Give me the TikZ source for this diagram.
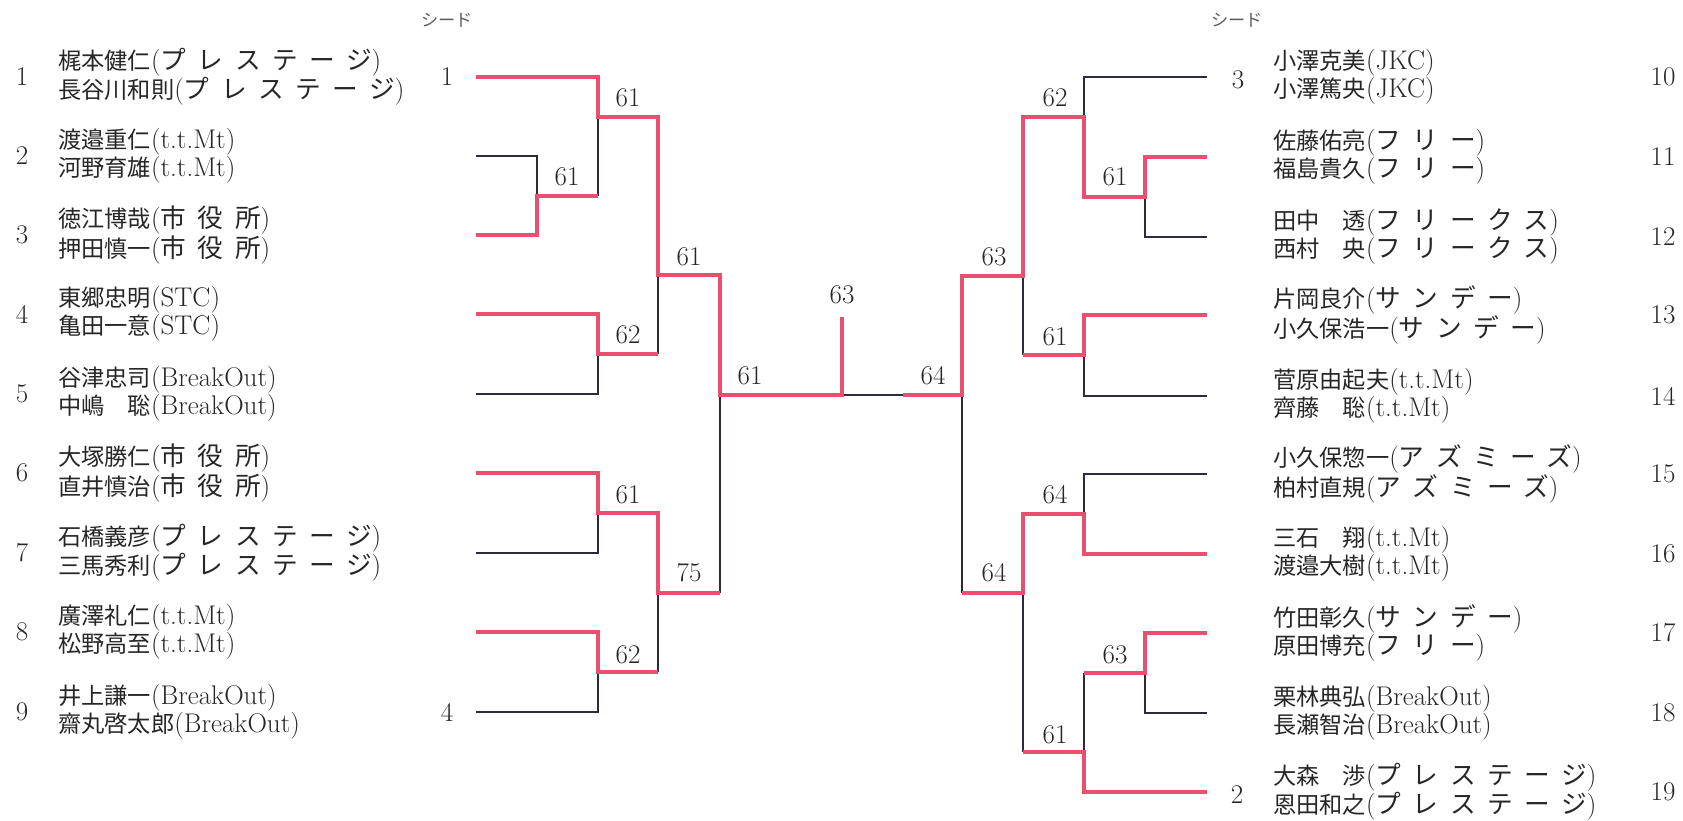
\documentclass[tikz,border=0pt]{standalone}
\usepackage{fontspec}
\usepackage{tikz}

\newfontfamily\jp[Scale=0.86]{Noto Sans CJK JP}
\newfontfamily\jpteam[Scale=0.95,LetterSpace=45]{Noto Sans CJK JP}
\definecolor{winline}{HTML}{E9506F}
\definecolor{loseline}{HTML}{2B2B3C}
\definecolor{ink}{HTML}{262626}
\newcommand{\pl}[2]{{\jp #1}(#2)}
\newcommand{\tm}[1]{{\jpteam #1}}

\tikzset{
  win/.style={draw=winline, line width=4pt},
  lose/.style={draw=loseline, line width=1.8pt},
  player/.style={anchor=west, align=left, inner sep=0pt, text=ink, font=\fontsize{27}{28}\selectfont},
  num/.style={inner sep=0pt, text=ink, font=\fontsize{27}{28}\selectfont},
  score/.style={inner sep=0pt, text=ink, font=\fontsize{27}{28}\selectfont},
  seedhead/.style={inner sep=0pt, text=ink!75, font=\jp\fontsize{20}{20}\selectfont},
}

\begin{document}
\begin{tikzpicture}[x=1pt, y=-1pt]
\useasboundingbox (0,0) rectangle (1683,821);
% left half
\coordinate (L1) at (476,77);
\coordinate (L2) at (476,156);
\coordinate (L3) at (476,235);
\coordinate (L4) at (476,314);
\coordinate (L5) at (476,394);
\coordinate (L6) at (476,473);
\coordinate (L7) at (476,553);
\coordinate (L8) at (476,632);
\coordinate (L9) at (476,712);
\coordinate (A) at (537,196);
\coordinate (B) at (598,117);
\coordinate (C) at (598,354);
\coordinate (D) at (658,275);
\coordinate (E) at (598,513);
\coordinate (G) at (598,672);
\coordinate (H) at (658,593);
\coordinate (K) at (720,395);
\coordinate (F) at (842,395);
\coordinate (V) at (842,317);
\coordinate (M) at (903,395);
% right half
\coordinate (R10) at (1207,77);
\coordinate (R11) at (1207,157);
\coordinate (R12) at (1207,237);
\coordinate (R13) at (1207,315);
\coordinate (R14) at (1207,396);
\coordinate (R15) at (1207,474);
\coordinate (R16) at (1207,554);
\coordinate (R17) at (1207,633);
\coordinate (R18) at (1207,713);
\coordinate (R19) at (1207,792);
\coordinate (N) at (1145,197);
\coordinate (P) at (1084,117);
\coordinate (Q) at (1084,355);
\coordinate (S) at (1023,276);
\coordinate (U) at (1084,514);
\coordinate (W) at (1145,673);
\coordinate (X) at (1084,752);
\coordinate (Y) at (1023,593);
\coordinate (Z) at (962,395);

% losers
\draw[lose] (L2) -| (A);
\draw[lose] (A -| B) -- (B);
\draw[lose] (L5) -| (C);
\draw[lose] (C -| D) -- (D);
\draw[lose] (L7) -| (E);
\draw[lose] (L9) -| (G);
\draw[lose] (G -| H) -- (H);
\draw[lose] (H -| K) -- (K);
\draw[lose] (F) -- (M);
\draw[lose] (R10) -| (P);
\draw[lose] (R12) -| (N);
\draw[lose] (R14) -| (Q);
\draw[lose] (Q -| S) -- (S);
\draw[lose] (R15) -| (U);
\draw[lose] (R18) -| (W);
\draw[lose] (W -| X) -- (X);
\draw[lose] (X -| Y) -- (Y);
\draw[lose] (Y -| Z) -- (Z);

% winners
\draw[win] (L1) -| (B) -| (D) -| (K) -- (F) -- (V);
\draw[win] (L3) -| (A) -- (A -| B);
\draw[win] (L4) -| (C) -- (C -| D);
\draw[win] (L6) -| (E) -| (H) -- (H -| K);
\draw[win] (L8) -| (G) -- (G -| H);
\draw[win] (R11) -| (N) -| (P) -| (S) -| (Z) -- (M);
\draw[win] (R13) -| (Q) -- (Q -| S);
\draw[win] (R16) -| (U) -| (Y) -- (Y -| Z);
\draw[win] (R17) -| (W) -- (W -| X);
\draw[win] (R19) -| (X) -- (X -| Y);

% scores
\node[score] (sA) at (567,177) {61};
\node[score] (sB) at (628,98) {61};
\node[score] (sC) at (628,335) {62};
\node[score] (sD) at (689,257) {61};
\node[score] (sE) at (628,495) {61};
\node[score] (sG) at (628,655) {62};
\node[score] (sH) at (689,573) {75};
\node[score] (sK) at (750,376) {61};
\node[score] (sV) at (842,295) {63};
\node[score] (sM) at (933,376) {64};
\node[score] (sN) at (1115,177) {61};
\node[score] (sP) at (1055,98) {62};
\node[score] (sQ) at (1055,337) {61};
\node[score] (sS) at (994,257) {63};
\node[score] (sU) at (1055,495) {64};
\node[score] (sW) at (1115,655) {63};
\node[score] (sX) at (1055,735) {61};
\node[score] (sY) at (994,573) {64};

% seeds
\node[seedhead] (hl) at (447,20) {シード};
\node[seedhead] (hr) at (1237,20) {シード};
\node[num] (d1) at (447,77) {1};
\node[num] (d4) at (447,712) {4};
\node[num] (d3) at (1238,80) {3};
\node[num] (d2) at (1237,795) {2};

% left entries
\node[num] (k1) at (22,77) {1};
\node[num] (k2) at (22,156) {2};
\node[num] (k3) at (22,235) {3};
\node[num] (k4) at (22,314) {4};
\node[num] (k5) at (22,394) {5};
\node[num] (k6) at (22,473) {6};
\node[num] (k7) at (22,553) {7};
\node[num] (k8) at (22,632) {8};
\node[num] (k9) at (22,712) {9};
\node[player] (n1) at (58,77) {\pl{梶本健仁}{\tm{プレステージ}}\\\pl{長谷川和則}{\tm{プレステージ}}};
\node[player] (n2) at (58,156) {\pl{渡邉重仁}{t.t.Mt}\\\pl{河野育雄}{t.t.Mt}};
\node[player] (n3) at (58,235) {\pl{徳江博哉}{\tm{市役所}}\\\pl{押田慎一}{\tm{市役所}}};
\node[player] (n4) at (58,314) {\pl{東郷忠明}{STC}\\\pl{亀田一意}{STC}};
\node[player] (n5) at (58,394) {\pl{谷津忠司}{BreakOut}\\\pl{中嶋　聡}{BreakOut}};
\node[player] (n6) at (58,473) {\pl{大塚勝仁}{\tm{市役所}}\\\pl{直井慎治}{\tm{市役所}}};
\node[player] (n7) at (58,553) {\pl{石橋義彦}{\tm{プレステージ}}\\\pl{三馬秀利}{\tm{プレステージ}}};
\node[player] (n8) at (58,632) {\pl{廣澤礼仁}{t.t.Mt}\\\pl{松野高至}{t.t.Mt}};
\node[player] (n9) at (58,712) {\pl{井上謙一}{BreakOut}\\\pl{齋丸啓太郎}{BreakOut}};

% right entries
\node[player] (n10) at (1273,77) {\pl{小澤克美}{JKC}\\\pl{小澤篤央}{JKC}};
\node[player] (n11) at (1273,157) {\pl{佐藤佑亮}{\tm{フリー}}\\\pl{福島貴久}{\tm{フリー}}};
\node[player] (n12) at (1273,237) {\pl{田中　透}{\tm{フリークス}}\\\pl{西村　央}{\tm{フリークス}}};
\node[player] (n13) at (1273,315) {\pl{片岡良介}{\tm{サンデー}}\\\pl{小久保浩一}{\tm{サンデー}}};
\node[player] (n14) at (1273,396) {\pl{菅原由起夫}{t.t.Mt}\\\pl{齊藤　聡}{t.t.Mt}};
\node[player] (n15) at (1273,474) {\pl{小久保惣一}{\tm{アズミーズ}}\\\pl{柏村直規}{\tm{アズミーズ}}};
\node[player] (n16) at (1273,554) {\pl{三石　翔}{t.t.Mt}\\\pl{渡邉大樹}{t.t.Mt}};
\node[player] (n17) at (1273,633) {\pl{竹田彰久}{\tm{サンデー}}\\\pl{原田博充}{\tm{フリー}}};
\node[player] (n18) at (1273,713) {\pl{栗林典弘}{BreakOut}\\\pl{長瀬智治}{BreakOut}};
\node[player] (n19) at (1273,792) {\pl{大森　渉}{\tm{プレステージ}}\\\pl{恩田和之}{\tm{プレステージ}}};
\node[num] (k10) at (1663,77) {10};
\node[num] (k11) at (1663,157) {11};
\node[num] (k12) at (1663,237) {12};
\node[num] (k13) at (1663,315) {13};
\node[num] (k14) at (1663,396) {14};
\node[num] (k15) at (1663,474) {15};
\node[num] (k16) at (1663,554) {16};
\node[num] (k17) at (1663,633) {17};
\node[num] (k18) at (1663,713) {18};
\node[num] (k19) at (1663,792) {19};
\end{tikzpicture}
\end{document}
